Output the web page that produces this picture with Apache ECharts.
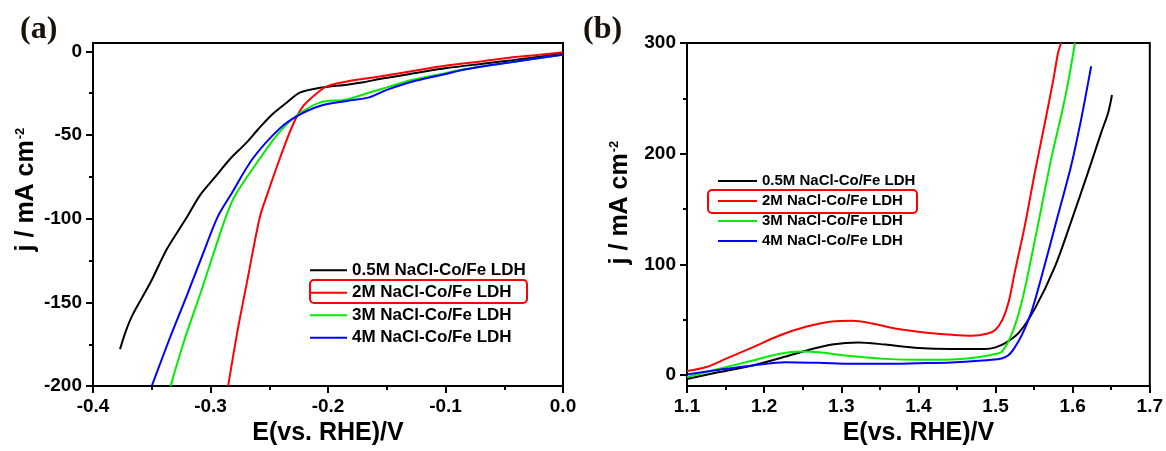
<!DOCTYPE html>
<html><head><meta charset="utf-8">
<script src="https://cdn.jsdelivr.net/npm/echarts@6/dist/echarts.min.js"></script>
<style>html,body{margin:0;padding:0;background:#fff}#c{width:1166px;height:451px}</style>
</head><body><div id="c"></div>
<script>
// ---- shared ----
const seriesNames = ['0.5M NaCl-Co/Fe LDH', '2M NaCl-Co/Fe LDH', '3M NaCl-Co/Fe LDH', '4M NaCl-Co/Fe LDH'];
const seriesColors = ['#000000', '#ff0000', '#00ee00', '#0000ff'];

// ---- panel (a): HER, [E (V vs RHE), j (mA cm^-2)] ----
const aBlack = [[-0.377,-178],[-0.372,-167],[-0.366,-157],[-0.351,-138],[-0.337,-118],[-0.320,-99],[-0.309,-86],[-0.296,-75],[-0.283,-64],[-0.270,-55],[-0.260,-47],[-0.248,-38],[-0.235,-30.6],[-0.224,-24.7],[-0.207,-21.8],[-0.184,-19.9],[-0.170,-18.5],[-0.156,-16.5],[-0.130,-13.5],[-0.099,-10],[-0.070,-7.5],[-0.043,-5.3],[-0.020,-3.2],[0,-1.2]];
const aRed = [[-0.285,-200],[-0.277,-167],[-0.269,-138],[-0.258,-99],[-0.252,-86],[-0.241,-64],[-0.230,-44],[-0.221,-32.6],[-0.209,-24.7],[-0.201,-20.9],[-0.184,-18],[-0.156,-15],[-0.130,-12],[-0.099,-8.5],[-0.070,-6],[-0.043,-3.5],[-0.020,-2],[0,-0.5]];
const aGreen = [[-0.334,-200],[-0.322,-172],[-0.309,-145.6],[-0.298,-122],[-0.287,-99],[-0.279,-86],[-0.258,-64],[-0.241,-48],[-0.226,-38],[-0.207,-30.6],[-0.184,-28.7],[-0.162,-24],[-0.150,-21.5],[-0.128,-17],[-0.100,-13],[-0.085,-10.8],[-0.043,-6.4],[0,-2]];
const aBlue = [[-0.350,-200],[-0.335,-172],[-0.320,-145.6],[-0.307,-122],[-0.294,-99],[-0.283,-86],[-0.264,-64],[-0.241,-46],[-0.226,-38.5],[-0.207,-32.6],[-0.184,-29.6],[-0.165,-27.5],[-0.150,-23],[-0.128,-18],[-0.100,-13.5],[-0.085,-11],[-0.060,-8],[-0.043,-6.4],[-0.020,-4],[0,-2]];
const aYTicks = [-200, -150, -100, -50, 0];
const aYMinorTicks = [-175, -125, -75, -25];

// ---- panel (b): OER, [E (V vs RHE), j (mA cm^-2)] ----
const bBlack = [[1.100,-3.5],[1.142,2.7],[1.185,8.7],[1.228,16.7],[1.254,22],[1.288,27.5],[1.322,29.5],[1.357,27.5],[1.400,24.5],[1.443,23.6],[1.486,23.6],[1.500,25],[1.513,29],[1.530,38],[1.551,60],[1.577,98],[1.598,138.6],[1.620,183.3],[1.637,219],[1.646,237],[1.651,253]];
const bRed = [[1.100,3.6],[1.125,7.2],[1.150,14.6],[1.185,25],[1.219,35.5],[1.254,43.6],[1.288,48.4],[1.314,49],[1.340,46.6],[1.374,41.5],[1.408,38.5],[1.443,36.4],[1.469,35.5],[1.490,37.6],[1.500,41],[1.509,50],[1.517,66],[1.525,93],[1.538,135],[1.551,183],[1.564,228],[1.575,267],[1.581,291],[1.585,300]];
const bGreen = [[1.100,-1.8],[1.142,5.7],[1.185,13.1],[1.219,19.1],[1.249,21.2],[1.271,20.6],[1.305,17.6],[1.357,14.6],[1.400,13.7],[1.443,14],[1.477,16],[1.499,19],[1.508,21],[1.521,37],[1.534,66],[1.547,108],[1.560,153],[1.573,198],[1.586,237],[1.594,264],[1.603,300]];
const bBlue = [[1.100,0.6],[1.142,4.8],[1.185,8.7],[1.228,11.6],[1.271,11],[1.314,10.1],[1.357,10.1],[1.400,10.7],[1.443,11.4],[1.477,12.8],[1.491,13.5],[1.508,15],[1.517,18],[1.525,25],[1.534,36],[1.547,58],[1.564,100],[1.581,144.5],[1.598,189],[1.611,231],[1.620,264],[1.624,279]];
const bYTicks = [0, 100, 200, 300];
const bYMinorTicks = [50, 150, 250];

const FONT = 'Liberation Sans';
const lbl = {color:'#000', fontSize:19, fontWeight:'bold', fontFamily:FONT};
const fmtX = v => (Math.abs(v) < 1e-9 ? 0 : v).toFixed(1);

function xAxisDef(gi, min, max, gap) {
  return {
    type:'value', gridIndex:gi, min, max, interval:0.1,
    name:'E(vs. RHE)/V', nameLocation:'middle', nameGap:gap,
    nameTextStyle:{color:'#000', fontSize:25, fontWeight:'bold', fontFamily:FONT},
    axisLine:{show:true, onZero:false, lineStyle:{color:'#000', width:2}},
    axisTick:{show:true, length:7, lineStyle:{color:'#000', width:2}},
    minorTick:{show:true, splitNumber:2, length:4, lineStyle:{color:'#000', width:2}},
    axisLabel:{...lbl, margin:11, formatter:fmtX},
    splitLine:{show:false}
  };
}
function yAxisDef(gi, min, max, ticks, gap, pad) {
  return {
    type:'value', gridIndex:gi, min, max, position:'left',
    name:'j / mA cm{sup|-2}', nameLocation:'middle', nameGap:gap,
    nameTextStyle:{color:'#000', fontSize:25, fontWeight:'bold', fontFamily:FONT, padding:[0,0,0,pad],
      rich:{sup:{fontSize:13, fontWeight:'bold', fontFamily:FONT, color:'#000', verticalAlign:'top', padding:[0,0,10,1]}}},
    axisLine:{show:true, onZero:false, lineStyle:{color:'#000', width:2}},
    axisTick:{show:true, length:7, customValues:ticks, lineStyle:{color:'#000', width:2}},
    axisLabel:{...lbl, margin:11, customValues:ticks},
    minorTick:{show:false}, splitLine:{show:false}
  };
}
function yMinorDef(gi, min, max, ticks) {
  return {
    type:'value', gridIndex:gi, min, max, position:'left',
    axisLine:{show:false, onZero:false},
    axisTick:{show:true, length:4, customValues:ticks, lineStyle:{color:'#000', width:2}},
    axisLabel:{show:false}, minorTick:{show:false}, splitLine:{show:false}
  };
}
function lineSeries(name, color, data, xi, yi) {
  return {type:'line', name, data, xAxisIndex:xi, yAxisIndex:yi, symbol:'none', showSymbol:false, smooth:0.3,
    lineStyle:{color, width:2}, itemStyle:{color}, emphasis:{disabled:true}, z:3};
}
function legendDef(left, top, fs, lh, iw) {
  return {orient:'vertical', left, top, padding:0, itemGap:0, itemWidth:iw, itemHeight:2, icon:'rect',
    data:seriesNames, selectedMode:false,
    textStyle:{color:'#000', fontSize:fs, fontWeight:'bold', fontFamily:FONT, lineHeight:lh}};
}

const aSets = [aBlack, aRed, aGreen, aBlue];
const bSets = [bBlack, bRed, bGreen, bBlue];

const option = {
  animation:false,
  backgroundColor:'#fff',
  grid:[
    {left:93, top:43, width:470, height:350, show:true, borderColor:'#000', borderWidth:2, backgroundColor:'transparent'},
    {left:687, top:43, width:466, height:346, show:true, borderColor:'#000', borderWidth:2, backgroundColor:'transparent'}
  ],
  xAxis:[ xAxisDef(0, -0.4, 0, 29), xAxisDef(1, 1.1, 1.7, 33) ],
  yAxis:[
    yAxisDef(0, -200, 5, aYTicks, 54, 50),
    yMinorDef(0, -200, 5, aYMinorTicks),
    yAxisDef(1, -10, 300, bYTicks, 54, 24),
    yMinorDef(1, -10, 300, bYMinorTicks)
  ],
  legend:[ legendDef(310, 259, 17, 22.5, 37), legendDef(718, 171, 15, 20, 39) ],
  series:[
    ...aSets.map((d,i) => lineSeries(seriesNames[i], seriesColors[i], d, 0, 0)),
    ...bSets.map((d,i) => lineSeries(seriesNames[i], seriesColors[i], d, 1, 2))
  ],
  graphic:[
    {type:'text', left:20, top:14, style:{text:'(a)', font:'bold 32px "Liberation Serif"', fill:'#1a1208'}},
    {type:'text', left:583, top:14, style:{text:'(b)', font:'bold 32px "Liberation Serif"', fill:'#1a1208'}},
    {type:'rect', shape:{x:310, y:280, width:217, height:23, r:4}, style:{fill:'none', stroke:'#ff0000', lineWidth:2}, z:10},
    {type:'rect', shape:{x:708, y:190, width:209, height:23, r:4}, style:{fill:'none', stroke:'#ff0000', lineWidth:2}, z:10}
  ]
};
echarts.init(document.getElementById('c'), null, {renderer:'canvas'}).setOption(option);
</script></body></html>
